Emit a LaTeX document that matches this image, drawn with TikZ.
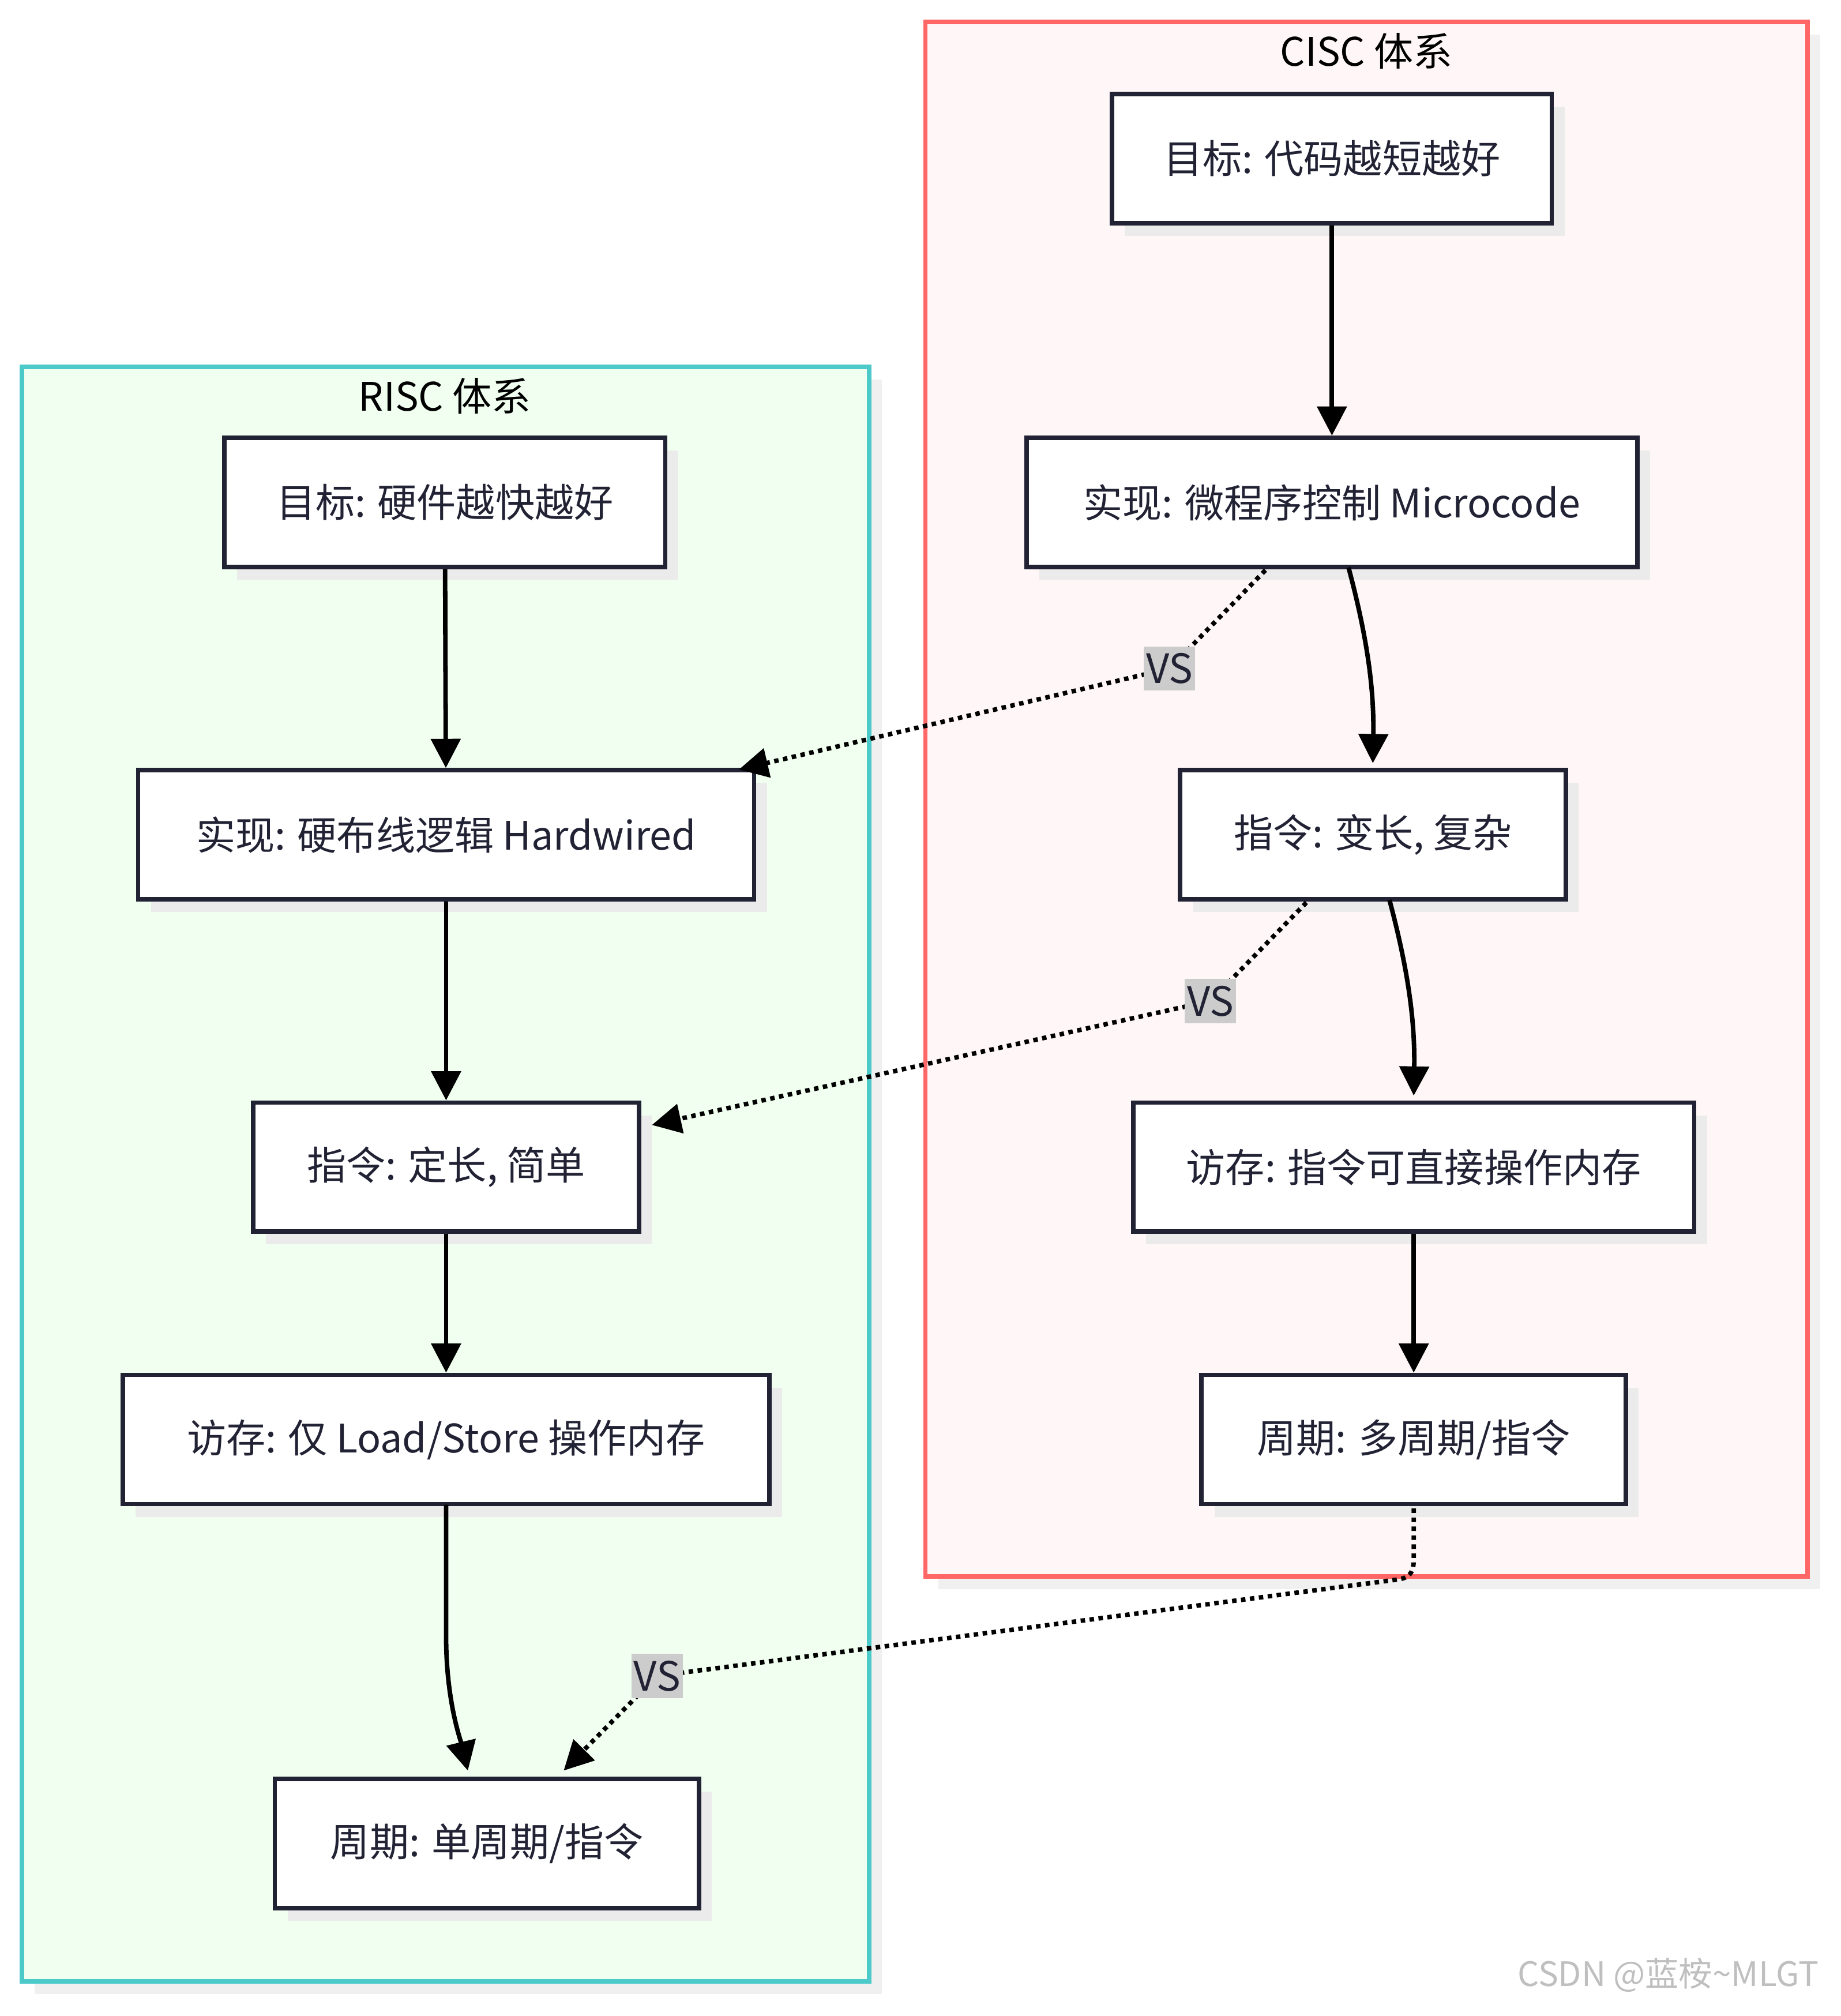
\documentclass[tikz,border=0pt]{standalone}
\usepackage{fontspec}
\setmainfont{Noto Sans CJK SC}
\usetikzlibrary{arrows.meta,shadows}
\definecolor{nodeb}{HTML}{222235}
\tikzset{
 box/.style={draw=nodeb,line width=2pt,fill=white,inner sep=0pt,minimum height=2.02cm,font=\fontsize{17.5}{20}\selectfont,text=nodeb,
   drop shadow={shadow xshift=0.2cm,shadow yshift=-0.2cm,fill=black!8,opacity=1}},
 arr/.style={line width=2pt,-{Triangle[length=13pt,width=13pt]}},
 dot/.style={line width=2pt,dotted,-{Triangle[length=13pt,width=13pt]}},
 vs/.style={fill=black!20,inner xsep=1pt,inner ysep=3pt,font=\fontsize{18}{20}\selectfont,text=nodeb},
 ttl/.style={font=\fontsize{17.5}{20}\selectfont,text=black}
}
\begin{document}
\begin{tikzpicture}[x=0.02cm,y=-0.02cm]
\useasboundingbox (0,0) rectangle (1440,1577);
\fill[white] (0,0) rectangle (1440,1577);
\fill[black!6] (734,27) rectangle (1424,1243);
\draw[draw=red!60!white,fill=red!3,line width=2pt] (724,17) rectangle (1414,1233);
\fill[black!6] (27,297) rectangle (690,1560);
\draw[draw=teal!60!cyan!70!white,fill=green!6!white,line width=2pt] (17,287) rectangle (680,1550);
\node[ttl] (tc) at (1069,40) {CISC 体系};
\node[ttl] (tr) at (348,310) {RISC 体系};
\node[box,minimum width=6.88cm] (c1) at (1042,124) {目标: 代码越短越好};
\node[box,minimum width=9.56cm] (c2) at (1042,393) {实现: 微程序控制 Microcode};
\node[box,minimum width=6.04cm] (c3) at (1074,653) {指令: 变长, 复杂};
\node[box,minimum width=8.78cm] (c4) at (1106,913) {访存: 指令可直接操作内存};
\node[box,minimum width=6.64cm] (c5) at (1106,1126) {周期: 多周期/指令};
\node[box,minimum width=6.9cm] (r1) at (348,393) {目标: 硬件越快越好};
\node[box,minimum width=9.64cm] (r2) at (349,653) {实现: 硬布线逻辑 Hardwired};
\node[box,minimum width=6.04cm] (r3) at (349,913) {指令: 定长, 简单};
\node[box,minimum width=10.12cm] (r4) at (349,1126) {访存: 仅 Load/Store 操作内存};
\node[box,minimum width=6.64cm] (r5) at (381,1442) {周期: 单周期/指令};
\draw[arr] (c1) -- (c2);
\draw[arr] (1055,444) .. controls (1070,500) and (1075,540) .. (1074,597);
\draw[arr] (1087,704) .. controls (1102,760) and (1107,800) .. (1106,857);
\draw[arr] (c4) -- (c5);
\draw[arr] (r1) -- (r2);
\draw[arr] (r2) -- (r3);
\draw[arr] (r3) -- (r4);
\draw[arr] (349,1177) -- (349,1280) .. controls (349,1330) and (360,1360) .. (366,1385);
\coordinate (v1) at (915,523);
\coordinate (v2) at (947,783);
\coordinate (v3) at (514,1311);
\draw[dot] (990,446) -- (v1) -- (578,602);
\draw[dot] (1022,706) -- (v2) -- (510,880);
\draw[dot] (1106,1180) -- (1106,1220) .. controls (1106,1233) and (1100,1235) .. (1090,1236) -- (v3) -- (441,1385);
\node[vs] (l1) at (v1) {VS};
\node[vs] (l2) at (v2) {VS};
\node[vs] (l3) at (v3) {VS};
\node[font=\fontsize{15}{17}\selectfont,text=black!25] (wm) at (1305,1545) {CSDN @蓝桉\textasciitilde MLGT};
\end{tikzpicture}
\end{document}
